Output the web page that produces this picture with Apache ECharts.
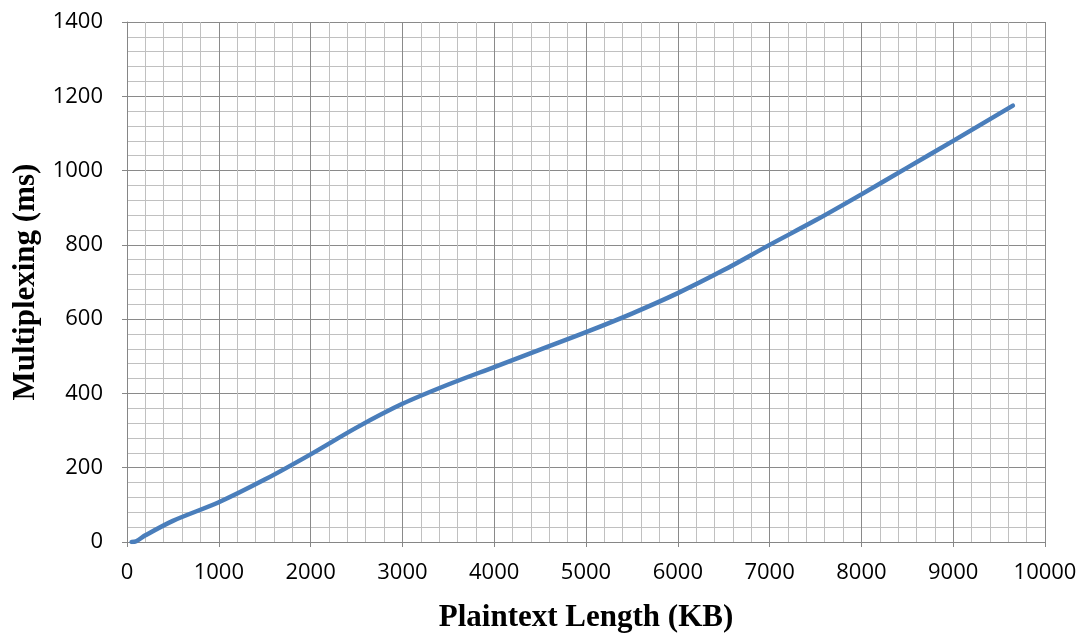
<!DOCTYPE html>
<html>
<head>
<meta charset="utf-8">
<script src="https://cdn.jsdelivr.net/npm/echarts@6/dist/echarts.min.js"></script>
<style>html,body{margin:0;padding:0;background:#fff}#c{width:1082px;height:638px}</style>
</head>
<body>
<div id="c"></div>
<script>
const xValues = [50, 100, 200, 500, 1000, 1500, 2000, 2500, 3000, 3500, 4000, 4500, 5000, 5500, 6000, 6500, 7000, 7500, 8000, 8500, 9000, 9650];
const yValues = [0, 2, 18, 57, 107, 168, 236, 308, 372, 424, 471, 518, 565, 615, 670, 732, 800, 866, 936, 1008, 1080, 1175];
const xTitle = 'Plaintext Length (KB)';
const yTitle = 'Multiplexing (ms)';

const chart = echarts.init(document.getElementById('c'), null, {renderer: 'canvas'});
const labelFont = {color: '#000', fontSize: 22, fontFamily: 'Open Sans', formatter: v => String(v)};
const nameFont = {color: '#000', fontSize: 31, fontWeight: 'bold', fontFamily: 'Liberation Serif'};
chart.setOption({
  animation: false,
  grid: {left: 127, right: 37, top: 22, bottom: 94},
  xAxis: {
    type: 'value', min: 0, max: 10000, interval: 1000,
    name: xTitle, nameLocation: 'middle', nameGap: 60, nameTextStyle: nameFont,
    axisLine: {show: true, lineStyle: {color: '#868686', width: 1}},
    axisTick: {show: true, inside: false, length: 5, lineStyle: {color: '#868686'}},
    axisLabel: Object.assign({margin: 20}, labelFont),
    splitLine: {show: true, lineStyle: {color: '#8a8a8a', width: 1}},
    minorTick: {show: false, splitNumber: 5},
    minorSplitLine: {show: true, lineStyle: {color: '#c0c0c0', width: 1}}
  },
  yAxis: {
    type: 'value', min: 0, max: 1400, interval: 200,
    name: yTitle, nameLocation: 'middle', nameGap: 86, nameTextStyle: nameFont,
    axisLine: {show: true, lineStyle: {color: '#868686', width: 1}},
    axisTick: {show: true, inside: false, length: 5, lineStyle: {color: '#868686'}},
    axisLabel: Object.assign({margin: 24}, labelFont),
    splitLine: {show: true, lineStyle: {color: '#8a8a8a', width: 1}},
    minorTick: {show: false, splitNumber: 5},
    minorSplitLine: {show: true, lineStyle: {color: '#c0c0c0', width: 1}}
  },
  series: [{
    type: 'line',
    data: xValues.map((x, i) => [x, yValues[i]]),
    smooth: 0.3,
    showSymbol: false,
    lineStyle: {color: '#4A7EBB', width: 4.5, cap: 'round'},
    itemStyle: {color: '#4A7EBB'}
  }]
});
</script>
</body>
</html>
